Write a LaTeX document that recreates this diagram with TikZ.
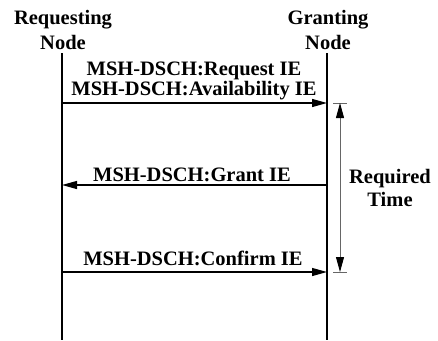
\documentclass[tikz,border=0pt]{standalone}
\usepackage{fontspec}
\setmainfont{Liberation Serif}
\usetikzlibrary{arrows.meta,positioning}

\begin{document}
\begin{tikzpicture}[x=1pt,y=1pt,>={Triangle[length=15pt,width=8pt]},
  thick,label node/.style={inner sep=0pt,font=\fontsize{20.5}{22}\selectfont\bfseries},
  life line/.style={line width=2pt},
  msg/.style={->,line width=1.2pt},
  span/.style={line width=0.9pt,black!60}]
  \useasboundingbox (0,0) rectangle (438,-340);

  % entities
  \node[label node,anchor=base] (req) at (63,-24) {Requesting};
  \node[label node] (reqn) [below=25pt of req.base,anchor=base] {Node};
  \node[label node,anchor=base] (grant) at (328,-24) {Granting};
  \node[label node] (grantn) [below=25pt of grant.base,anchor=base] {Node};

  \coordinate (rtop) at (62,-53);
  \coordinate (rbot) at (62,-340);
  \coordinate (gtop) at (327,-53);
  \coordinate (gbot) at (327,-340);
  \draw[life line] (rtop) -- (rbot);
  \draw[life line] (gtop) -- (gbot);

  % messages
  \coordinate (r1) at (62,-103);
  \coordinate (g1) at (327,-103);
  \coordinate (r2) at (62,-185);
  \coordinate (g2) at (327,-185);
  \coordinate (r3) at (62,-272);
  \coordinate (g3) at (327,-272);
  \draw[msg] (r1) -- (g1);
  \draw[msg] (g2) -- (r2);
  \draw[msg] (r3) -- (g3);

  \node[label node,anchor=base] (m1a) at (194,-75) {MSH-DSCH:Request IE};
  \node[label node,anchor=base] (m1b) at (194,-95) {MSH-DSCH:Availability IE};
  \node[label node,anchor=base] (m2) at (192,-181) {MSH-DSCH:Grant IE};
  \node[label node,anchor=base] (m3) at (193,-265) {MSH-DSCH:Confirm IE};

  % required time
  \coordinate (t1l) at (333,-103);
  \coordinate (t1r) at (347,-103);
  \coordinate (t2l) at (333,-272);
  \coordinate (t2r) at (347,-272);
  \coordinate (t1) at (340,-103);
  \coordinate (t2) at (340,-272);
  \draw[span] (t1l) -- (t1r);
  \draw[span] (t2l) -- (t2r);
  \draw[span,{Triangle[length=15pt,width=8pt,color=black]}-{Triangle[length=15pt,width=8pt,color=black]}] (t1) -- (t2);

  \node[label node,anchor=base] (rt) at (390,-183) {Required};
  \node[label node] (rtb) [below=23pt of rt.base,anchor=base] {Time};
\end{tikzpicture}
\end{document}
